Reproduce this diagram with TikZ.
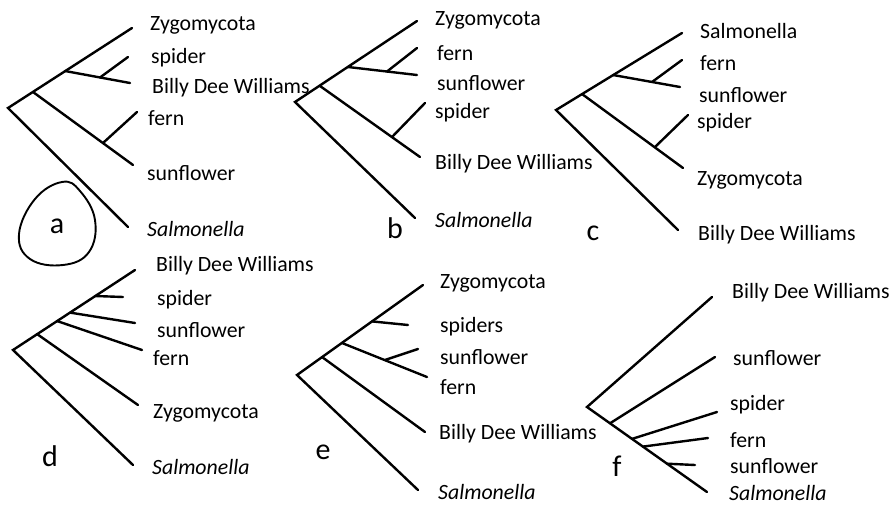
\documentclass[tikz,border=0pt]{standalone}
\usepackage{fontspec}
\setmainfont{Carlito}
\begin{document}
\begin{tikzpicture}[x=1pt,y=-1pt,
  br/.style={line width=2.4pt,line cap=round},
  lab/.style={anchor=west,inner sep=0pt,font=\fontsize{21.8}{23}\selectfont},
  ilab/.style={lab,font=\fontsize{21.8}{23}\selectfont\itshape},
  tag/.style={inner sep=0pt,font=\fontsize{30}{32}\selectfont}]
\useasboundingbox (0,0) rectangle (891,506);
% ---------- tree a ----------
\coordinate (ar) at (8,108);
\coordinate (aZ) at (132,28);
\coordinate (an1) at (33,92);
\coordinate (an2) at (65,71);
\coordinate (aB) at (130,83);
\coordinate (an3) at (100,77.5);
\coordinate (aSp) at (128,57);
\coordinate (aSu) at (133,165);
\coordinate (an4) at (103,143);
\coordinate (aF) at (137,112);
\coordinate (aSa) at (128,227);
\draw[br] (aZ) -- (ar) -- (aSa);
\draw[br] (an1) -- (aSu);
\draw[br] (an4) -- (aF);
\draw[br] (an2) -- (aB);
\draw[br] (an3) -- (aSp);
\node[lab] (ta1) at (150,25) {Zygomycota};
\node[lab] (ta2) at (151,58) {spider};
\node[lab] (ta3) at (152,88) {Billy Dee Williams};
\node[lab] (ta4) at (148,118) {fern};
\node[lab] (ta5) at (147,173) {sunflower};
\node[ilab] (ta6) at (147,229) {Salmonella};
\draw[line width=1.9pt] plot[smooth cycle,tension=0.7] coordinates {(62,182) (80,191) (95,220) (89,252) (63,265) (30,259) (19,234) (35,199)};
\node[tag] (la) at (57,226) {a};
% ---------- tree b ----------
\coordinate (br0) at (295,102);
\coordinate (bZ) at (417,21);
\coordinate (bn1) at (320,86);
\coordinate (bB) at (420,157);
\coordinate (bn2) at (392,137);
\coordinate (bSp) at (425,103);
\coordinate (bn3) at (348,67);
\coordinate (bSu) at (417,75);
\coordinate (bn4) at (387,71.5);
\coordinate (bF) at (417,48);
\coordinate (bSa) at (415,218);
\draw[br] (bZ) -- (br0) -- (bSa);
\draw[br] (bn1) -- (bB);
\draw[br] (bn2) -- (bSp);
\draw[br] (bn3) -- (bSu);
\draw[br] (bn4) -- (bF);
\node[lab] (tb1) at (435,20) {Zygomycota};
\node[lab] (tb2) at (437,53) {fern};
\node[lab] (tb3) at (437,83) {sunflower};
\node[lab] (tb4) at (435,113) {spider};
\node[lab] (tb5) at (435,164) {Billy Dee Williams};
\node[ilab] (tb6) at (435,220) {Salmonella};
\node[tag] (lb) at (395,228) {b};
% ---------- tree c ----------
\coordinate (cr) at (556,110);
\coordinate (cSa) at (682,33);
\coordinate (cn1) at (582,94);
\coordinate (cZ) at (683,168);
\coordinate (cn2) at (655,147);
\coordinate (cSp) at (688,115);
\coordinate (cn3) at (613,75);
\coordinate (cSu) at (680,87);
\coordinate (cn4) at (652,82);
\coordinate (cF) at (682,60);
\coordinate (cB) at (678,230);
\draw[br] (cSa) -- (cr) -- (cB);
\draw[br] (cn1) -- (cZ);
\draw[br] (cn2) -- (cSp);
\draw[br] (cn3) -- (cSu);
\draw[br] (cn4) -- (cF);
\node[lab] (tc1) at (700,31) {Salmonella};
\node[lab] (tc2) at (700,63) {fern};
\node[lab] (tc3) at (699,95) {sunflower};
\node[lab] (tc4) at (697,123) {spider};
\node[lab] (tc5) at (697,180) {Zygomycota};
\node[lab] (tc6) at (698,235) {Billy Dee Williams};
\node[tag] (lc) at (593,233) {c};
% ---------- tree d ----------
\coordinate (dr) at (13,350);
\coordinate (dB) at (135,270);
\coordinate (dn1) at (37,334);
\coordinate (dZ) at (138,405);
\coordinate (dn2) at (57,321);
\coordinate (dF) at (142,350);
\coordinate (dn3) at (70,312.6);
\coordinate (dSu) at (135,323);
\coordinate (dn4) at (95,296);
\coordinate (dSp) at (123,297);
\coordinate (dSa) at (133,465);
\draw[br] (dB) -- (dr) -- (dSa);
\draw[br] (dn1) -- (dZ);
\draw[br] (dn2) -- (dF);
\draw[br] (dn3) -- (dSu);
\draw[br] (dn4) -- (dSp);
\node[lab] (td1) at (156,266) {Billy Dee Williams};
\node[lab] (td2) at (157,300) {spider};
\node[lab] (td3) at (157,330) {sunflower};
\node[lab] (td4) at (153,358) {fern};
\node[lab] (td5) at (153,413) {Zygomycota};
\node[ilab] (td6) at (152,467) {Salmonella};
\node[tag] (ld) at (50,456) {d};
% ---------- tree e ----------
\coordinate (er) at (297,375);
\coordinate (eZ) at (423,285);
\coordinate (en1) at (322,357);
\coordinate (eB) at (425,432);
\coordinate (en2) at (342,343);
\coordinate (eF) at (427,377);
\coordinate (en3) at (385,360);
\coordinate (eSu) at (418,349);
\coordinate (en4) at (372,321.4);
\coordinate (eSp) at (408,325);
\coordinate (eSa) at (418,490);
\draw[br] (eZ) -- (er) -- (eSa);
\draw[br] (en1) -- (eB);
\draw[br] (en2) -- (eF);
\draw[br] (en3) -- (eSu);
\draw[br] (en4) -- (eSp);
\node[lab] (te1) at (440,283) {Zygomycota};
\node[lab] (te2) at (440,327) {spiders};
\node[lab] (te3) at (440,357) {sunflower};
\node[lab] (te4) at (440,387) {fern};
\node[lab] (te5) at (439,434) {Billy Dee Williams};
\node[ilab] (te6) at (438,492) {Salmonella};
\node[tag] (le) at (323,452) {e};
% ---------- tree f ----------
\coordinate (fr) at (587,407);
\coordinate (fB) at (712,297);
\coordinate (fSa) at (707,492);
\coordinate (fn1) at (610,423.3);
\coordinate (fSu) at (715,357);
\coordinate (fn2) at (632,438.9);
\coordinate (fSp) at (717,412);
\coordinate (fn3) at (643,446.6);
\coordinate (fF) at (708,438);
\coordinate (fn4) at (667,463.7);
\coordinate (fSu2) at (695,465);
\draw[br] (fB) -- (fr) -- (fSa);
\draw[br] (fn1) -- (fSu);
\draw[br] (fn2) -- (fSp);
\draw[br] (fn3) -- (fF);
\draw[br] (fn4) -- (fSu2);
\node[lab] (tf1) at (732,293) {Billy Dee Williams};
\node[lab] (tf2) at (733,358) {sunflower};
\node[lab] (tf3) at (730,405) {spider};
\node[lab] (tf4) at (730,440) {fern};
\node[lab] (tf5) at (730,466) {sunflower};
\node[ilab] (tf6) at (729,493) {Salmonella};
\node[tag] (lf) at (617,466) {f};
\end{tikzpicture}
\end{document}
